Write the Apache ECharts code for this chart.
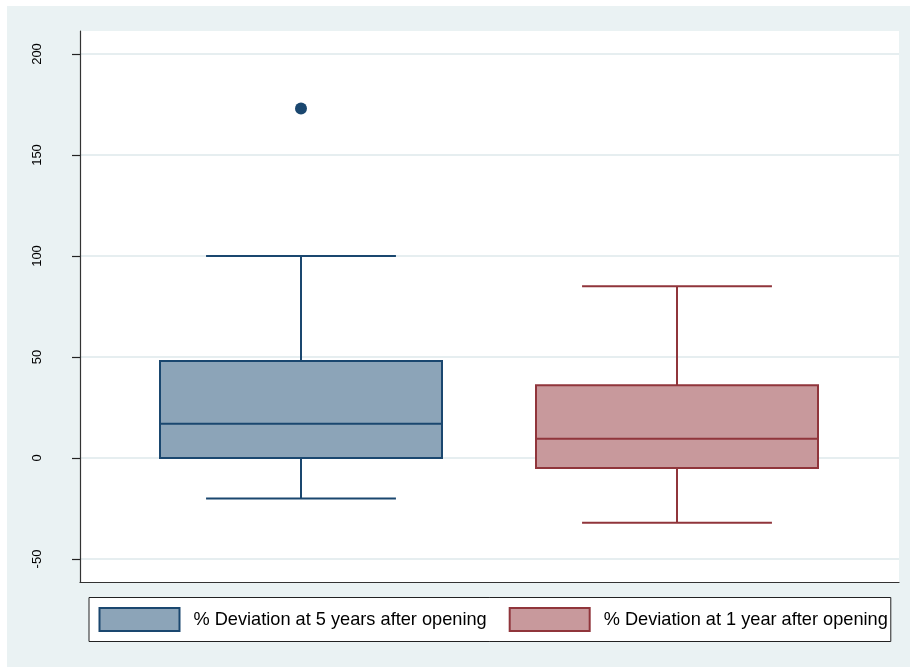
<!DOCTYPE html>
<html>
<head>
<meta charset="utf-8">
<script src="https://cdn.jsdelivr.net/npm/echarts@6/dist/echarts.min.js"></script>
<style>
  html, body { margin: 0; padding: 0; background: #ffffff; }
  #chart { width: 910px; height: 667px; }
</style>
</head>
<body>
<div id="chart"></div>
<script>
// Box-plot summaries for the two groups
const groupNames = ['% Deviation at 5 years after opening', '% Deviation at 1 year after opening'];
const lowerWhisker = [-20, -32];
const lowerQuartile = [0, -5];
const medianValue = [17, 9.5];
const upperQuartile = [48, 36];
const upperWhisker = [100, 85];
// Outside values: [group index, value]
const outsideValues = [[0, 173]];
// Y axis tick range
const yTickMin = -50;
const yTickMax = 200;
const yTickStep = 50;

const fills = ['#8CA4B8', '#C8999C'];
const strokes = ['#1A476F', '#90353B'];
const FONT = '"Liberation Sans", Arial, Helvetica, sans-serif';

const chart = echarts.init(document.getElementById('chart'), null, { renderer: 'canvas' });

function boxItem(params, api) {
  const xi = api.value(0);
  const idx = params.seriesIndex;
  const band = api.size([1, 0])[0];
  const bw = band * 0.75;
  const cw = band * 0.505;
  const pMin = api.coord([xi, api.value(1)]);
  const pQ1 = api.coord([xi, api.value(2)]);
  const pMed = api.coord([xi, api.value(3)]);
  const pQ3 = api.coord([xi, api.value(4)]);
  const pMax = api.coord([xi, api.value(5)]);
  const cx = pMed[0];
  const lineStyle = { stroke: strokes[idx], lineWidth: 2, fill: null };
  return {
    type: 'group',
    children: [
      { type: 'line', shape: { x1: cx, y1: pMin[1], x2: cx, y2: pQ1[1] }, style: lineStyle },
      { type: 'line', shape: { x1: cx, y1: pQ3[1], x2: cx, y2: pMax[1] }, style: lineStyle },
      { type: 'line', shape: { x1: cx - cw / 2, y1: pMin[1], x2: cx + cw / 2, y2: pMin[1] }, style: lineStyle },
      { type: 'line', shape: { x1: cx - cw / 2, y1: pMax[1], x2: cx + cw / 2, y2: pMax[1] }, style: lineStyle },
      { type: 'rect', shape: { x: cx - bw / 2, y: pQ3[1], width: bw, height: pQ1[1] - pQ3[1] },
        style: { fill: fills[idx], stroke: strokes[idx], lineWidth: 2 } },
      { type: 'line', shape: { x1: cx - bw / 2, y1: pMed[1], x2: cx + bw / 2, y2: pMed[1] }, style: lineStyle }
    ]
  };
}

const boxSeries = groupNames.map((name, i) => ({
  type: 'custom',
  name: name,
  xAxisIndex: 2,
  yAxisIndex: 2,
  itemStyle: { color: fills[i], borderColor: strokes[i], borderWidth: 2 },
  renderItem: boxItem,
  encode: { x: 0, y: [1, 2, 3, 4, 5] },
  data: [[i, lowerWhisker[i], lowerQuartile[i], medianValue[i], upperQuartile[i], upperWhisker[i]]]
}));

const option = {
  backgroundColor: '#ffffff',
  animation: false,
  textStyle: { fontFamily: FONT },
  graphic: [{
    type: 'rect', z: -100, silent: true,
    shape: { x: 7, y: 6, width: 903, height: 661 },
    style: { fill: '#EAF2F3' }
  }],
  grid: [
    // plot region frame
    { left: 80, right: 11, top: 31, bottom: 84.5, show: true, backgroundColor: '#ffffff', borderWidth: 0 },
    // tick/label/gridline region
    { left: 80, right: 11, top: 54, bottom: 108 },
    // box region
    { left: 113, width: 752, top: 54, bottom: 108 }
  ],
  xAxis: [
    { gridIndex: 0, type: 'value', min: 0, max: 1,
      axisLine: { show: true, lineStyle: { color: '#333333', width: 1.2 } },
      axisTick: { show: false }, axisLabel: { show: false }, splitLine: { show: false } },
    { gridIndex: 1, type: 'value', min: 0, max: 1, show: false },
    { gridIndex: 2, type: 'category', data: groupNames, show: false }
  ],
  yAxis: [
    { gridIndex: 0, type: 'value', min: 0, max: 1,
      axisLine: { show: true, lineStyle: { color: '#333333', width: 1.2 } },
      axisTick: { show: false }, axisLabel: { show: false }, splitLine: { show: false } },
    { gridIndex: 1, type: 'value', min: yTickMin, max: yTickMax, interval: yTickStep,
      axisLine: { show: false },
      axisTick: { show: true, length: 8, lineStyle: { color: '#222222', width: 1.2 } },
      axisLabel: { rotate: 90, margin: 36, color: '#000000', fontSize: 13, fontFamily: FONT },
      splitLine: { show: true, lineStyle: { color: '#E6EEF0', width: 2 } } },
    { gridIndex: 2, type: 'value', min: yTickMin, max: yTickMax, show: false }
  ],
  legend: {
    data: groupNames.map((n, i) => ({
      name: n, icon: 'rect',
      itemStyle: { color: fills[i], borderColor: strokes[i], borderWidth: 2 }
    })),
    left: 89, top: 597.5,
    orient: 'horizontal',
    itemWidth: 80, itemHeight: 23,
    itemGap: 22,
    padding: [9.5, 3, 9.5, 9.5],
    backgroundColor: '#ffffff',
    borderColor: '#222222', borderWidth: 1,
    selectedMode: false,
    formatter: n => '{gap|}' + n,
    textStyle: {
      fontSize: 18.2, color: '#000000', fontFamily: FONT,
      rich: { gap: { width: 9 } }
    }
  },
  series: boxSeries.concat([{
    type: 'scatter',
    name: 'outside values',
    xAxisIndex: 2,
    yAxisIndex: 2,
    symbol: 'circle',
    symbolSize: 12,
    itemStyle: { color: '#1A476F', opacity: 1 },
    data: outsideValues
  }])
};

chart.setOption(option);
</script>
</body>
</html>
